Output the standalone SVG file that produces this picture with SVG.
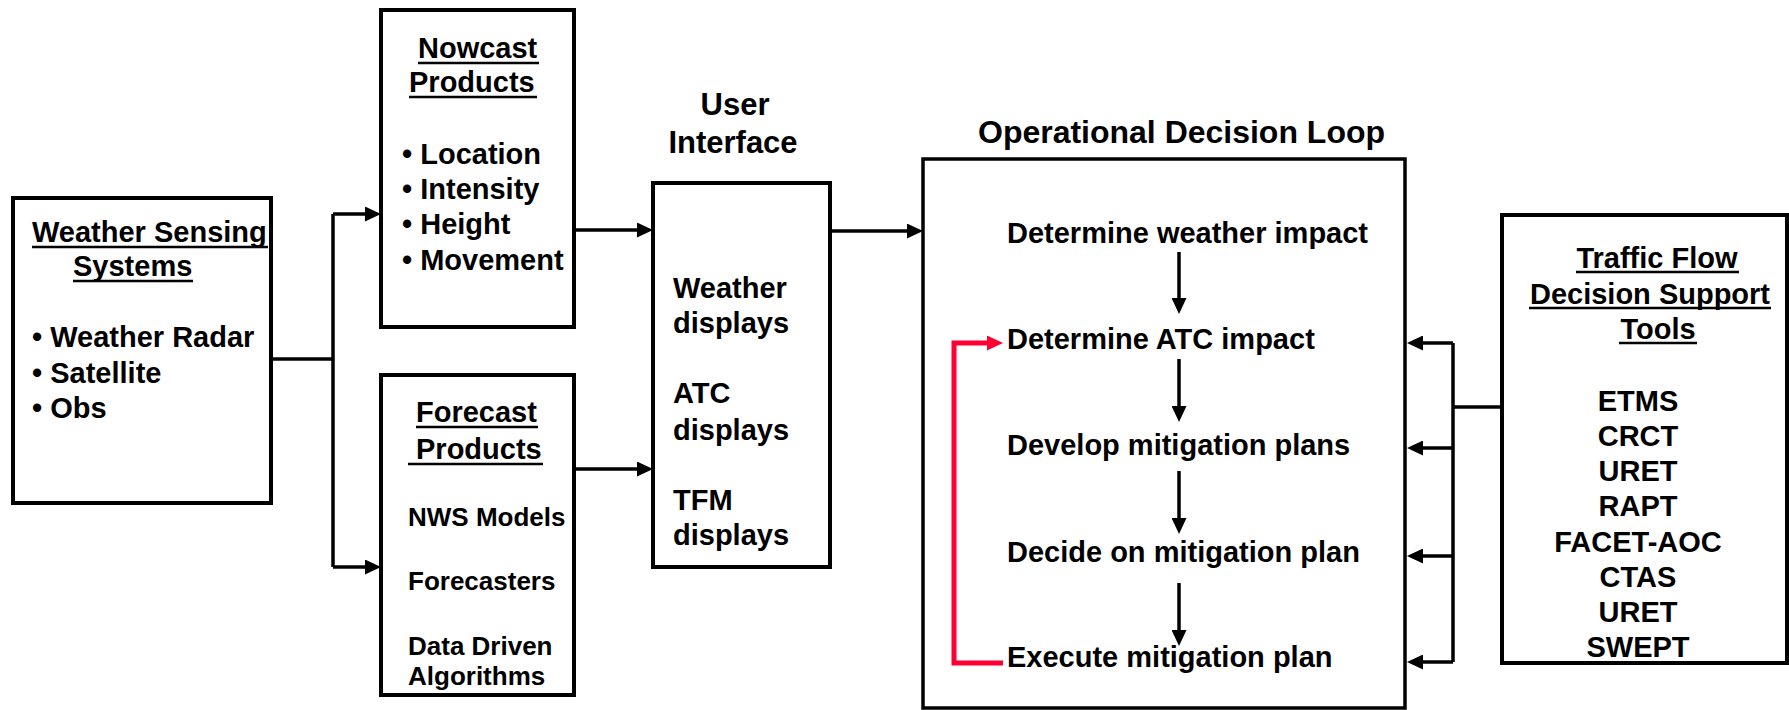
<svg xmlns="http://www.w3.org/2000/svg" width="1789" height="710" viewBox="0 0 1789 710">
<style>
text{font-family:"Liberation Sans",Arial,sans-serif;font-weight:bold;font-size:29px;fill:#000}
.sm{font-size:26px}
.title{font-size:31px}
.mid{text-anchor:middle}
.box{fill:#fff;stroke:#000;stroke-width:4}
.ul{stroke:#000;stroke-width:2.5}
.conn{fill:none;stroke:#000;stroke-width:3.5}
.red{fill:none;stroke:#FF0033;stroke-width:5}
</style>
<defs>
<marker id="ah" viewBox="0 0 16 15" refX="7" refY="7.5" markerWidth="16" markerHeight="15" markerUnits="userSpaceOnUse" orient="auto">
<path d="M0,0 L16,7.5 L0,15 z" fill="#000"/>
</marker>
<marker id="ahr" viewBox="0 0 16 15" refX="8" refY="7.5" markerWidth="16" markerHeight="15" markerUnits="userSpaceOnUse" orient="auto">
<path d="M0,0 L16,7.5 L0,15 z" fill="#FF0033"/>
</marker>
</defs>
<rect width="1789" height="710" fill="#fff"/>

<g id="weather-sensing">
<rect class="box" x="13" y="198" width="258" height="305"/>
<text x="32" y="242">Weather Sensing</text>
<line class="ul" x1="32" y1="247" x2="268" y2="247"/>
<text x="73" y="276">Systems</text>
<line class="ul" x1="73" y1="281" x2="193" y2="281"/>
<text x="32" y="347">• Weather Radar</text>
<text x="32" y="383">• Satellite</text>
<text x="32" y="418">• Obs</text>
</g>

<g id="nowcast">
<rect class="box" x="381" y="10" width="193" height="317"/>
<text x="418" y="58">Nowcast</text>
<line class="ul" x1="418" y1="63" x2="539" y2="63"/>
<text x="409" y="92">Products</text>
<line class="ul" x1="409" y1="97" x2="537" y2="97"/>
<text x="402" y="164">• Location</text>
<text x="402" y="199">• Intensity</text>
<text x="402" y="234">• Height</text>
<text x="402" y="270">• Movement</text>
</g>

<g id="forecast">
<rect class="box" x="381" y="375" width="193" height="320"/>
<text x="416" y="422">Forecast</text>
<line class="ul" x1="416" y1="427" x2="538" y2="427"/>
<text x="416" y="459">Products</text>
<line class="ul" x1="408" y1="464" x2="543" y2="464"/>
<text class="sm" x="408" y="526">NWS Models</text>
<text class="sm" x="408" y="590">Forecasters</text>
<text class="sm" x="408" y="655">Data Driven</text>
<text class="sm" x="408" y="685">Algorithms</text>
</g>

<g id="user-interface">
<text class="mid title" x="735" y="115">User</text>
<text class="mid title" x="733" y="153">Interface</text>
<rect class="box" x="653" y="183" width="177" height="384"/>
<text x="673" y="298">Weather</text>
<text x="673" y="333">displays</text>
<text x="673" y="403">ATC</text>
<text x="673" y="440">displays</text>
<text x="673" y="510">TFM</text>
<text x="673" y="545">displays</text>
</g>

<g id="operational-loop">
<text class="title" x="978" y="143" textLength="407" lengthAdjust="spacingAndGlyphs">Operational Decision Loop</text>
<rect class="box" x="923" y="159" width="482" height="549" style="stroke-width:3.5"/>
<text x="1007" y="243">Determine weather impact</text>
<text x="1007" y="349">Determine ATC impact</text>
<text x="1007" y="455">Develop mitigation plans</text>
<text x="1007" y="562">Decide on mitigation plan</text>
<text x="1007" y="667">Execute mitigation plan</text>
</g>

<g id="traffic-flow">
<rect class="box" x="1502" y="215" width="285" height="448"/>
<text class="mid" x="1657" y="268">Traffic Flow</text>
<line class="ul" x1="1576" y1="272" x2="1739" y2="272"/>
<text class="mid" x="1650" y="304">Decision Support</text>
<line class="ul" x1="1529" y1="308" x2="1771" y2="308"/>
<text class="mid" x="1658" y="339">Tools</text>
<line class="ul" x1="1619" y1="343" x2="1697" y2="343"/>
<text class="mid" x="1638" y="411">ETMS</text>
<text class="mid" x="1638" y="446">CRCT</text>
<text class="mid" x="1638" y="481">URET</text>
<text class="mid" x="1638" y="516">RAPT</text>
<text class="mid" x="1638" y="552">FACET-AOC</text>
<text class="mid" x="1638" y="587">CTAS</text>
<text class="mid" x="1638" y="622">URET</text>
<text class="mid" x="1638" y="657">SWEPT</text>
</g>

<g id="connectors">
<path class="conn" d="M271 359 H333"/>
<path class="conn" d="M333 214 V567"/>
<path class="conn" d="M333 214 H372" marker-end="url(#ah)"/>
<path class="conn" d="M333 567 H372" marker-end="url(#ah)"/>
<path class="conn" d="M574 230 H644" marker-end="url(#ah)"/>
<path class="conn" d="M574 469 H644" marker-end="url(#ah)"/>
<path class="conn" d="M830 231 H914" marker-end="url(#ah)"/>
<path class="conn" d="M1179 252 V305" marker-end="url(#ah)"/>
<path class="conn" d="M1179 359 V413" marker-end="url(#ah)"/>
<path class="conn" d="M1179 471 V525" marker-end="url(#ah)"/>
<path class="conn" d="M1179 583 V637" marker-end="url(#ah)"/>
<path class="red" d="M1003 663 H954 V343 H995" marker-end="url(#ahr)"/>
<path class="conn" d="M1502 407 H1453"/>
<path class="conn" d="M1453 343 V662"/>
<path class="conn" d="M1453 343 H1416" marker-end="url(#ah)"/>
<path class="conn" d="M1453 448 H1416" marker-end="url(#ah)"/>
<path class="conn" d="M1453 556 H1416" marker-end="url(#ah)"/>
<path class="conn" d="M1453 662 H1416" marker-end="url(#ah)"/>
</g>
</svg>
